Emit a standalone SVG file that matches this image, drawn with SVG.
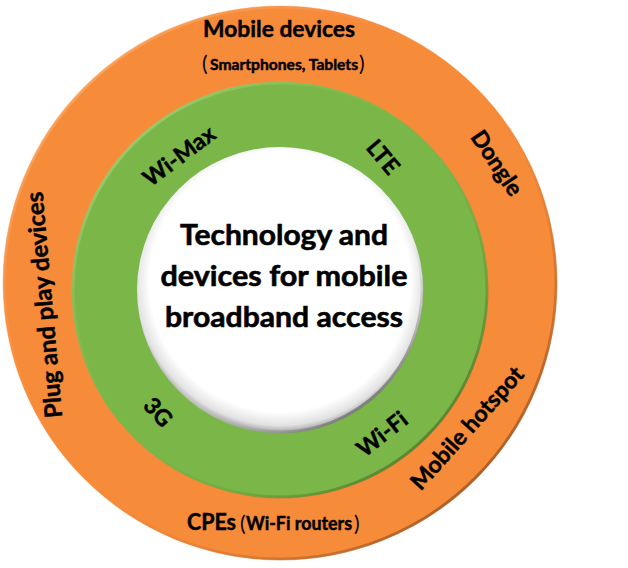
<svg xmlns="http://www.w3.org/2000/svg" width="628" height="568" viewBox="0 0 628 568">
<defs>
<linearGradient id="rimO" x1="0" y1="0" x2="1" y2="1">
<stop offset="0" stop-color="#FFC08A" stop-opacity="0.8"/>
<stop offset="0.5" stop-color="#F68B3A" stop-opacity="0"/>
<stop offset="1" stop-color="#5A2A08" stop-opacity="0.9"/>
</linearGradient>
<linearGradient id="rimG" x1="0" y1="0" x2="1" y2="1">
<stop offset="0" stop-color="#B5E08F" stop-opacity="0.9"/>
<stop offset="0.5" stop-color="#7AB648" stop-opacity="0"/>
<stop offset="1" stop-color="#2F4F18" stop-opacity="0.9"/>
</linearGradient>
<radialGradient id="whiteFill" cx="0.5" cy="0.47" r="0.53">
<stop offset="0.86" stop-color="#FFFFFF"/>
<stop offset="0.95" stop-color="#E2E2E2"/>
<stop offset="1" stop-color="#9E9E9E"/>
</radialGradient>
<linearGradient id="rimW" x1="0" y1="0" x2="0.7" y2="1">
<stop offset="0" stop-color="#FFFFFF" stop-opacity="0"/>
<stop offset="0.6" stop-color="#FFFFFF" stop-opacity="0"/>
<stop offset="1" stop-color="#707070" stop-opacity="0.9"/>
</linearGradient>
</defs>
<style>
text { font-family: Lato, Carlito, "Liberation Sans", sans-serif; font-weight: bold; fill: #000; stroke: #000; stroke-width: 0.45px; }
.lbl { font-size: 23px; text-anchor: middle; }
.big { font-size: 24px; text-anchor: middle; }
.ring { font-size: 23px; text-anchor: middle; }
.ctr { font-size: 29px; text-anchor: middle; stroke-width: 0.6px; }
.par { font-weight: normal; font-size: 21px; stroke-width: 0; }
</style>
<rect width="628" height="568" fill="#FFFFFF"/>
<g id="outer-ring">
<circle cx="280" cy="283" r="277" fill="#F68B3A"/>
<circle cx="280" cy="283" r="276" fill="none" stroke="url(#rimO)" stroke-width="3"/>
</g>
<g id="middle-ring">
<circle cx="280" cy="290" r="208" fill="#7AB648"/>
<circle cx="280" cy="290" r="207" fill="none" stroke="url(#rimG)" stroke-width="3"/>
</g>
<g id="center">
<circle cx="280" cy="290" r="143" fill="url(#whiteFill)"/>
<circle cx="280" cy="290" r="142" fill="none" stroke="url(#rimW)" stroke-width="3"/>
<text class="ctr" x="284" y="245" textLength="208" lengthAdjust="spacingAndGlyphs">Technology and</text>
<text class="ctr" x="284" y="286" textLength="247" lengthAdjust="spacingAndGlyphs">devices for mobile</text>
<text class="ctr" x="284" y="327" textLength="238" lengthAdjust="spacingAndGlyphs">broadband access</text>
</g>
<g id="technologies">
<text class="ring" transform="translate(179,156) rotate(-37)" dy="0.35em">Wi-Max</text>
<text class="ring" transform="translate(383,157) rotate(50)" dy="0.35em">LTE</text>
<text class="ring" transform="translate(158,412) rotate(48)" dy="0.35em">3G</text>
<text class="ring" transform="translate(382,434) rotate(-38)" dy="0.35em">Wi-Fi</text>
</g>
<g id="devices">
<text class="lbl" x="279" y="37" textLength="152" lengthAdjust="spacingAndGlyphs">Mobile devices</text>
<text class="par" x="202" y="71">(</text>
<text x="210" y="70" font-size="15" textLength="148" lengthAdjust="spacingAndGlyphs">Smartphones, Tablets</text>
<text class="par" x="359" y="71">)</text>
<text class="lbl" transform="translate(497,163) rotate(56)" dy="0.35em">Dongle</text>
<text class="lbl" transform="translate(467,428) rotate(-48)" dy="0.35em">Mobile hotspot</text>
<text class="big" transform="translate(44,305) rotate(-95)" dy="0.35em">Plug and play devices</text>
<text x="187" y="530" font-size="22" textLength="49" lengthAdjust="spacingAndGlyphs">CPEs</text>
<text class="par" x="240" y="531">(</text>
<text x="246" y="530" font-size="18" textLength="106" lengthAdjust="spacingAndGlyphs">Wi-Fi routers</text>
<text class="par" x="354" y="531">)</text>
</g>
</svg>
